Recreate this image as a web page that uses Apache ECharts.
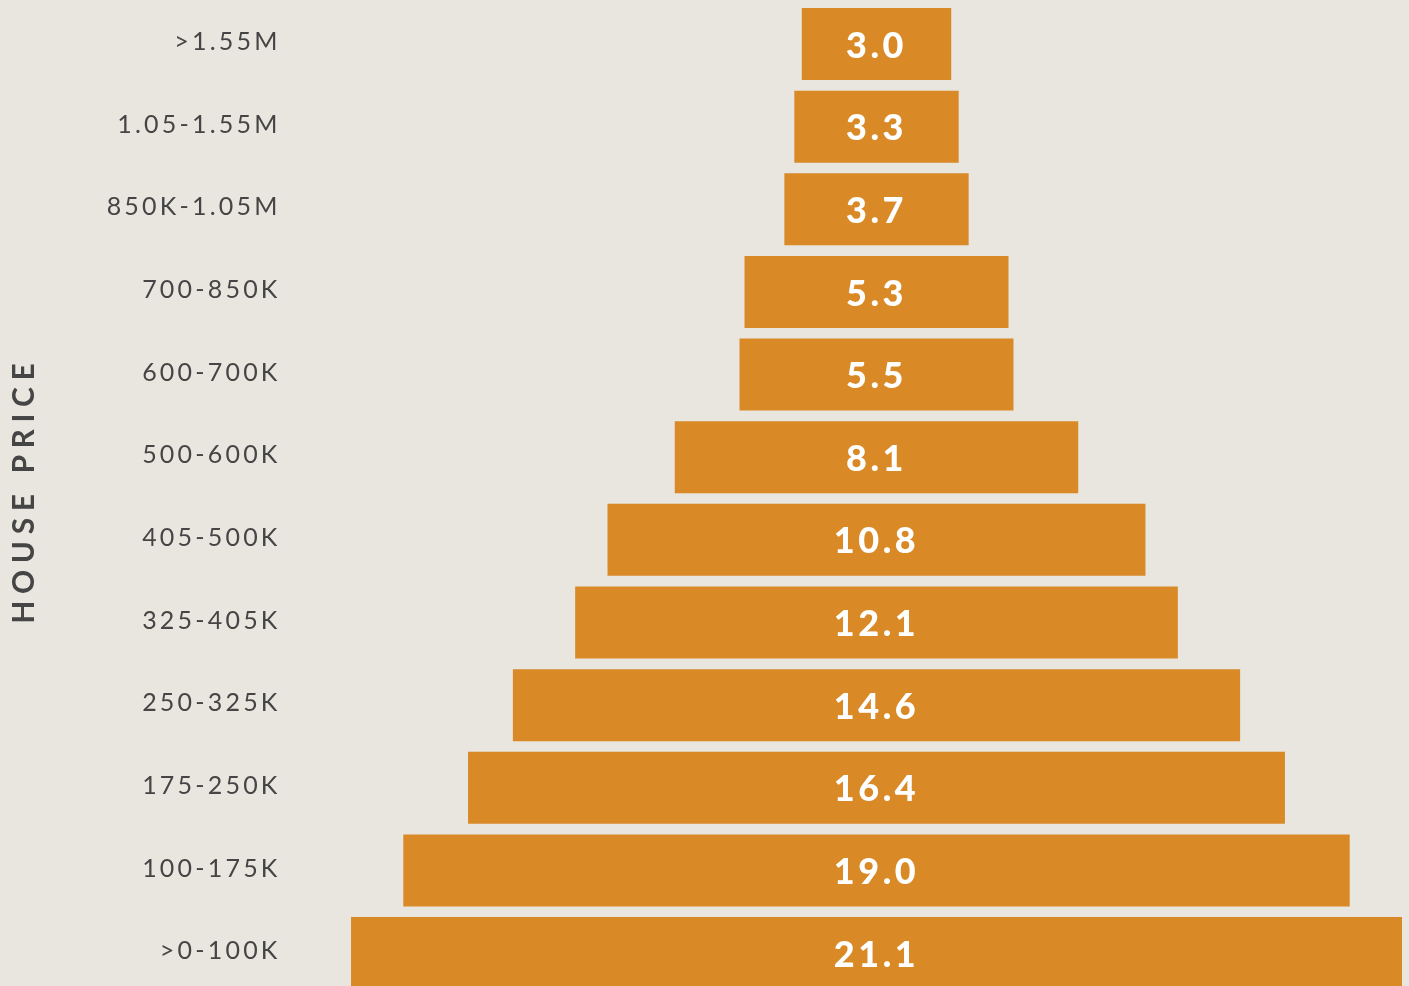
<!DOCTYPE html>
<html>
<head>
<meta charset="utf-8">
<script src="https://cdn.jsdelivr.net/npm/echarts@6/dist/echarts.min.js"></script>
<style>
  html, body { margin: 0; padding: 0; background: #e9e5df; overflow: hidden; }
  #chart { width: 1409px; height: 995px; }
</style>
</head>
<body>
<div id="chart"></div>
<script>
const categories = ['>1.55M', '1.05-1.55M', '850K-1.05M', '700-850K', '600-700K', '500-600K',
  '405-500K', '325-405K', '250-325K', '175-250K', '100-175K', '>0-100K'];
const values = [3.0, 3.3, 3.7, 5.3, 5.5, 8.1, 10.8, 12.1, 14.6, 16.4, 19.0, 21.1];
const axisName = 'HOUSE PRICE';

const maxVal = Math.max.apply(null, values);
const offsets = values.map(v => (maxVal - v) / 2);

function spaced(str, style) {
  return String(str).split('').map(ch => '{' + style + '|' + ch + '}').join('');
}

const chart = echarts.init(document.getElementById('chart'));
chart.setOption({
  backgroundColor: '#e9e5df',
  animation: false,
  grid: { left: 351, right: 7, top: 2.7, bottom: 0.6, containLabel: false },
  xAxis: {
    type: 'value', min: 0, max: maxVal, show: false
  },
  yAxis: {
    type: 'category',
    data: categories,
    inverse: true,
    axisLine: { show: false },
    axisTick: { show: false },
    splitLine: { show: false },
    axisLabel: {
      margin: 72,
      formatter: v => spaced(v, 't'),
      rich: {
        t: { fontFamily: 'Lato', fontSize: 25, color: '#454545', padding: [0, 1.6], lineHeight: 30 }
      },
      padding: [0, 0, 4, 0]
    },
    name: spaced(axisName, 'n'),
    nameLocation: 'middle',
    nameRotate: 90,
    nameGap: 312,
    nameTextStyle: {
      padding: [0, 0, 0, 10],
      rich: {
        n: { fontFamily: 'Lato', fontWeight: 'bold', fontSize: 30, color: '#454545', padding: [0, 3.3] }
      }
    }
  },
  series: [
    {
      name: 'offset',
      type: 'bar',
      stack: 'pyr',
      data: offsets,
      barWidth: 72,
      silent: true,
      itemStyle: { color: 'rgba(0,0,0,0)' },
      emphasis: { disabled: true }
    },
    {
      name: 'share',
      type: 'bar',
      stack: 'pyr',
      data: values,
      barWidth: 72,
      itemStyle: { color: '#d98a27' },
      label: {
        show: true,
        position: 'inside',
        formatter: p => spaced(p.value.toFixed(1), 'v'),
        rich: {
          v: { fontFamily: 'Lato', fontWeight: 900, fontSize: 36, color: '#ffffff', padding: [4, 3.6, 0, 0] }
        }
      }
    }
  ]
});
</script>
</body>
</html>
